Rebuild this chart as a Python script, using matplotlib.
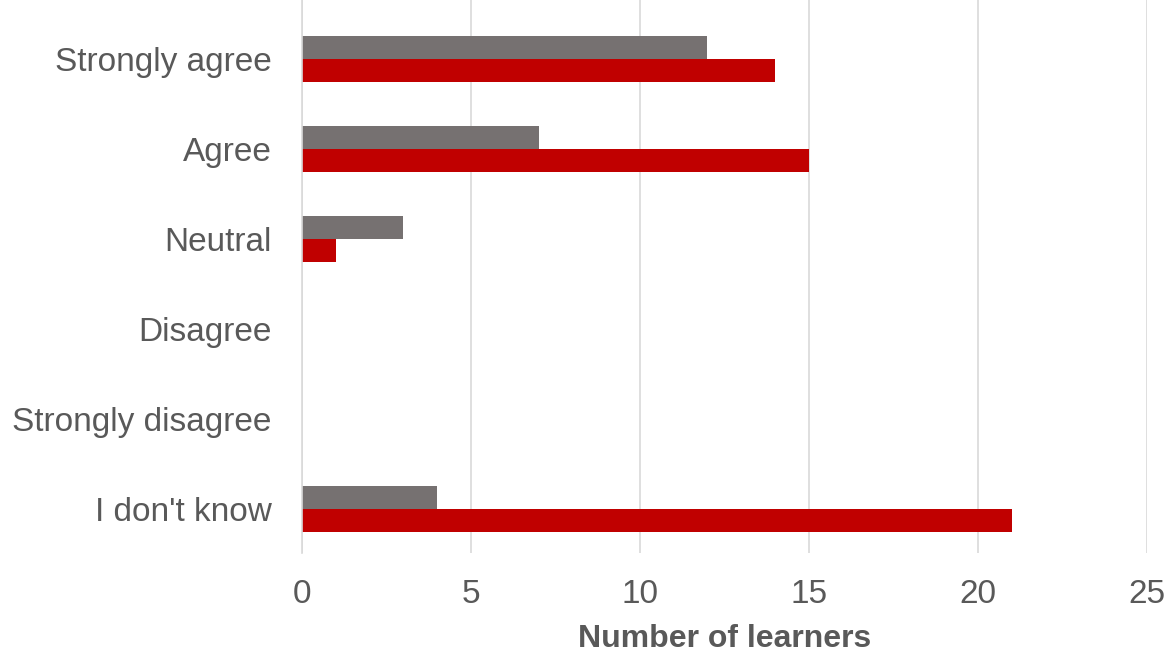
import numpy as np
import matplotlib.pyplot as plt

plt.rcParams['font.family'] = ['Liberation Sans', 'DejaVu Sans']

# Dados
categories = ['Strongly agree', 'Agree', 'Neutral', 'Disagree', 'Strongly disagree', "I don't know"]
gray_values = [12, 7, 3, 0, 0, 4]
red_values = [14, 15, 1, 0, 0, 21]
xticks = [0, 5, 10, 15, 20, 25]

fig = plt.figure(figsize=(11.75, 6.59), dpi=100)
ax = fig.add_axes([0.257, 0.161, 0.719, 0.839])

y = np.arange(len(categories))
h = 0.255
ax.barh(y - h / 2, gray_values, height=h, color='#767171')
ax.barh(y + h / 2, red_values, height=h, color='#C00000')

ax.set_xlim(0, 25)
ax.set_ylim(5.49, -0.656)
ax.set_xticks(xticks)
ax.set_yticks(y)
ax.set_yticklabels(categories)
ax.tick_params(axis='both', length=0, labelsize=24, colors='#595959')
ax.tick_params(axis='x', pad=19)
ax.tick_params(axis='y', pad=22)

ax.grid(axis='x', color='#D9D9D9', linewidth=1.2)
ax.set_axisbelow(True)
for s in ['top', 'right', 'bottom']:
    ax.spines[s].set_visible(False)
ax.spines['left'].set_color('#D9D9D9')
ax.spines['left'].set_linewidth(1.2)

ax.set_xlabel('Number of learners', fontsize=23, fontweight='bold', color='#595959', labelpad=10)

plt.savefig('out.png', dpi=100)
